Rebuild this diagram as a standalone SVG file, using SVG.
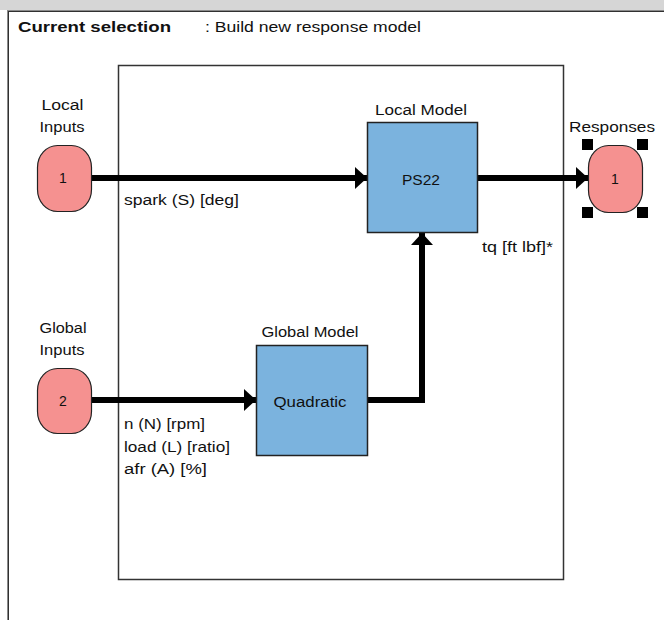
<svg xmlns="http://www.w3.org/2000/svg" width="664" height="620" viewBox="0 0 664 620">
<defs>
<style>
text{font-family:"Liberation Sans",Arial,sans-serif;font-size:14px;fill:#111}
.c{text-anchor:middle}
.node{fill:#f59190;stroke:#222;stroke-width:1.2}
.box{fill:#7bb3de;stroke:#222;stroke-width:1.5}
.wire{fill:none;stroke:#000;stroke-width:6}
.handle{fill:#000}
</style>
<marker id="ah" viewBox="0 0 12 22" refX="12" refY="11" markerUnits="userSpaceOnUse" markerWidth="13" markerHeight="22" orient="auto">
<path d="M0,0 L12,11 L0,22 Z" fill="#000"/>
</marker>
</defs>
<rect x="0" y="0" width="664" height="620" fill="#ffffff"/>
<rect x="0" y="0" width="664" height="10" fill="#d6d6d6"/>
<line x1="7" y1="10.5" x2="664" y2="10.5" stroke="#8a8a8a" stroke-width="1"/>
<line x1="8" y1="11.5" x2="664" y2="11.5" stroke="#303030" stroke-width="1"/>
<line x1="7.5" y1="10" x2="7.5" y2="620" stroke="#8a8a8a" stroke-width="1"/>
<line x1="8.5" y1="11" x2="8.5" y2="620" stroke="#303030" stroke-width="1"/>
<text x="18" y="32" style="font-weight:bold" textLength="153" lengthAdjust="spacingAndGlyphs">Current selection</text>
<text x="205" y="32" textLength="216" lengthAdjust="spacingAndGlyphs">: Build new response model</text>
<rect id="frame" x="118.5" y="65.5" width="445" height="514" fill="none" stroke="#333" stroke-width="1.5"/>
<g id="connectors">
<line class="wire" x1="91" y1="178" x2="367" y2="178" marker-end="url(#ah)"/>
<line class="wire" x1="478" y1="178" x2="588" y2="178" marker-end="url(#ah)"/>
<line class="wire" x1="91" y1="400" x2="256" y2="400" marker-end="url(#ah)"/>
<polyline class="wire" points="368,400 422,400 422,233" marker-end="url(#ah)"/>
<text x="124" y="205" textLength="115" lengthAdjust="spacingAndGlyphs">spark (S) [deg]</text>
<text x="482" y="252" textLength="71" lengthAdjust="spacingAndGlyphs">tq [ft lbf]*</text>
<text x="124" y="429" textLength="81" lengthAdjust="spacingAndGlyphs">n (N) [rpm]</text>
<text x="124" y="452" textLength="106" lengthAdjust="spacingAndGlyphs">load (L) [ratio]</text>
<text x="124" y="474" textLength="83" lengthAdjust="spacingAndGlyphs">afr (A) [%]</text>
</g>
<g id="local-inputs">
<text class="c" x="62.5" y="110" textLength="42" lengthAdjust="spacingAndGlyphs">Local</text>
<text class="c" x="62" y="132" textLength="45" lengthAdjust="spacingAndGlyphs">Inputs</text>
<rect class="node" x="37.5" y="145.5" width="54" height="66" rx="20" ry="22"/>
<text class="c" x="63" y="183">1</text>
</g>
<g id="global-inputs">
<text class="c" x="63" y="333" textLength="47" lengthAdjust="spacingAndGlyphs">Global</text>
<text class="c" x="62" y="355" textLength="45" lengthAdjust="spacingAndGlyphs">Inputs</text>
<rect class="node" x="37.5" y="368.5" width="54" height="65" rx="20" ry="22"/>
<text class="c" x="63" y="406">2</text>
</g>
<g id="local-model">
<text class="c" x="421" y="115" textLength="92" lengthAdjust="spacingAndGlyphs">Local Model</text>
<rect class="box" x="367.5" y="122.5" width="110" height="110"/>
<text class="c" x="421" y="185" textLength="38" lengthAdjust="spacingAndGlyphs">PS22</text>
</g>
<g id="global-model">
<text class="c" x="310" y="337" textLength="97" lengthAdjust="spacingAndGlyphs">Global Model</text>
<rect class="box" x="256.5" y="345.5" width="111" height="110"/>
<text class="c" x="310" y="407" textLength="73" lengthAdjust="spacingAndGlyphs">Quadratic</text>
</g>
<g id="responses">
<text class="c" x="612" y="132" textLength="86" lengthAdjust="spacingAndGlyphs">Responses</text>
<rect class="node" x="588.5" y="145.5" width="54" height="67" rx="20" ry="22"/>
<text class="c" x="615" y="184">1</text>
<rect class="handle" x="582" y="139" width="11" height="11"/>
<rect class="handle" x="637" y="139" width="11" height="11"/>
<rect class="handle" x="582" y="207" width="11" height="11"/>
<rect class="handle" x="637" y="207" width="11" height="11"/>
</g>
</svg>
